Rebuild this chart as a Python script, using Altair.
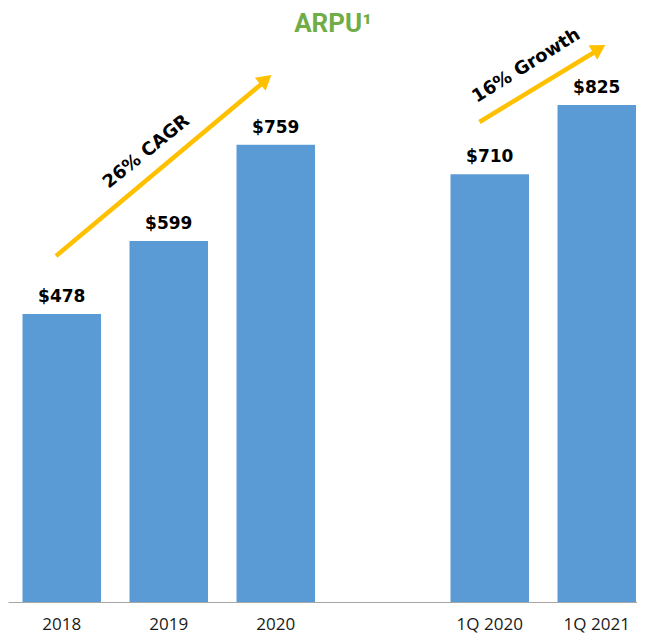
import altair as alt
import pandas as pd

# ---- data ----
categories = ["2018", "2019", "2020", "1Q 2020", "1Q 2021"]
arpu = [478, 599, 759, 710, 825]
value_labels = ["$478", "$599", "$759", "$710", "$825"]
x_domain = ["2018", "2019", "2020", " ", "1Q 2020", "1Q 2021"]  # blank slot = gap
title_text = ["ARPU¹"]
cagr_text = ["26% CAGR"]
growth_text = ["16% Growth"]

df = pd.DataFrame({"period": categories, "arpu": arpu, "label": value_labels})

BAR = "#5B9BD5"
GOLD = "#FFC000"
GREEN = "#70AD47"

W, H = 629, 566

xscale = alt.Scale(domain=x_domain, paddingInner=0.2665, paddingOuter=0.0725, align=0.935)
yscale = alt.Scale(domain=[0, 939.4], nice=False, zero=True)

base = alt.Chart(df).encode(
    x=alt.X("period:N", scale=xscale, sort=x_domain,
            axis=alt.Axis(title=None, labelAngle=0, ticks=False, domain=True,
                          domainColor="#A6A6A6", domainWidth=1,
                          labelFont="Open Sans", labelFontSize=17,
                          labelColor="#1a1a1a", labelPadding=14)),
    y=alt.Y("arpu:Q", scale=yscale, axis=None),
)

bars = base.mark_bar(color=BAR)
labels = base.mark_text(font="DejaVu Sans", fontWeight="bold", fontSize=17,
                        color="#000000", baseline="alphabetic", dy=-12).encode(text="label:N")

one = pd.DataFrame({"k": [0]})

title = alt.Chart(pd.DataFrame({"t": title_text})).mark_text(
    font="Roboto", fontWeight="bold", fontSize=26, color=GREEN,
    align="center", baseline="alphabetic").encode(
    text="t:N", x=alt.value(325), y=alt.value(-4))

cagr_line = alt.Chart(one).mark_rule(color=GOLD, strokeWidth=4.5).encode(
    x=alt.value(48), y=alt.value(220), x2=alt.value(257), y2=alt.value(45))
cagr_head = alt.Chart(one).mark_point(shape="triangle-up", filled=True, opacity=1,
                                      color=GOLD, size=280, angle=50).encode(
    x=alt.value(257.8), y=alt.value(43.6))
cagr_lbl = alt.Chart(pd.DataFrame({"t": cagr_text})).mark_text(
    font="DejaVu Sans", fontWeight="bold", fontSize=18, color="#000000",
    angle=321, align="center", baseline="middle").encode(
    text="t:N", x=alt.value(138.5), y=alt.value(116))

gr_line = alt.Chart(one).mark_rule(color=GOLD, strokeWidth=4.5).encode(
    x=alt.value(471.5), y=alt.value(86), x2=alt.value(590), y2=alt.value(14))
gr_head = alt.Chart(one).mark_point(shape="triangle-up", filled=True, opacity=1,
                                    color=GOLD, size=280, angle=59).encode(
    x=alt.value(591.1), y=alt.value(12.8))
gr_lbl = alt.Chart(pd.DataFrame({"t": growth_text})).mark_text(
    font="DejaVu Sans", fontWeight="bold", fontSize=18, color="#000000",
    angle=328, align="center", baseline="middle").encode(
    text="t:N", x=alt.value(518.5), y=alt.value(30))

chart = alt.layer(bars, labels, title, cagr_line, cagr_head, cagr_lbl,
                  gr_line, gr_head, gr_lbl).properties(
    width=W, height=H,
    autosize=alt.AutoSizeParams(type="none"),
    padding={"left": 0, "top": 28, "right": 0, "bottom": 32},
).configure_view(stroke=None)

chart.save("out.html", embed_options={"renderer": "svg", "actions": False})
